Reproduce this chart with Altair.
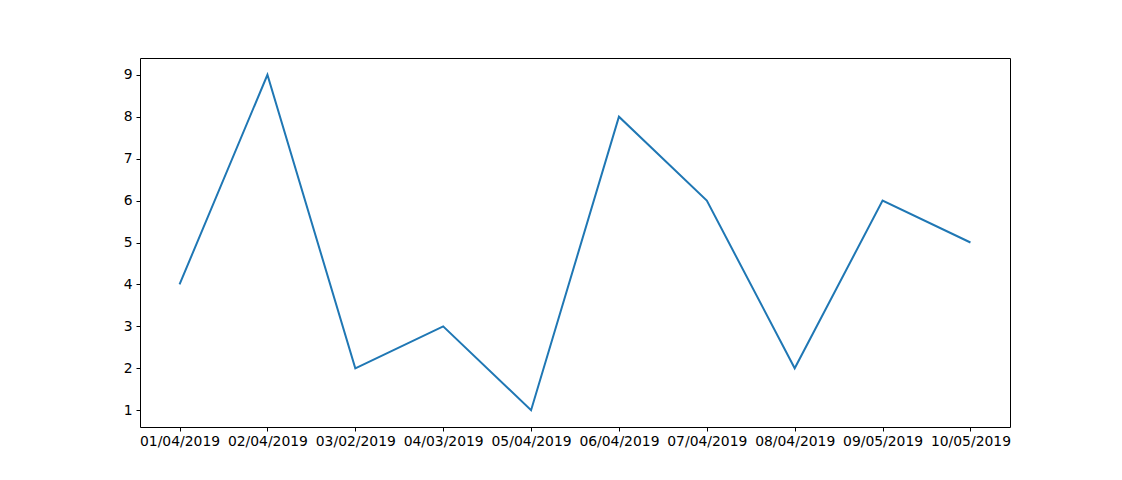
import altair as alt
import pandas as pd

dates = ["01/04/2019", "02/04/2019", "03/02/2019", "04/03/2019", "05/04/2019",
         "06/04/2019", "07/04/2019", "08/04/2019", "09/05/2019", "10/05/2019"]
values = [4, 9, 2, 3, 1, 8, 6, 2, 6, 5]

df = pd.DataFrame({"date": dates, "value": values})

chart = alt.Chart(df).mark_line(color="#1f77b4", strokeWidth=2).encode(
    x=alt.X("date:N", sort=dates, title=None,
            scale=alt.Scale(type="point", padding=0.45),
            axis=alt.Axis(labelAngle=0, labelFontSize=13.9, labelColor="black",
                          tickColor="black", tickSize=4, domain=False,
                          grid=False, labelPadding=3, labelFont="DejaVu Sans")),
    y=alt.Y("value:Q", title=None,
            scale=alt.Scale(domain=[0.6, 9.4], nice=False, zero=False),
            axis=alt.Axis(values=[1, 2, 3, 4, 5, 6, 7, 8, 9], labelFontSize=13.9,
                          labelColor="black", tickColor="black", tickSize=4,
                          domain=False, grid=False, labelPadding=4,
                          labelFont="DejaVu Sans")),
).properties(
    width=870, height=369,
    autosize=alt.AutoSizeParams(type="none"),
    padding={"left": 132, "top": 50, "right": 104, "bottom": 45},
).configure_view(stroke="black", strokeWidth=1)

chart.save("out.html", embed_options={"renderer": "svg", "actions": False})
